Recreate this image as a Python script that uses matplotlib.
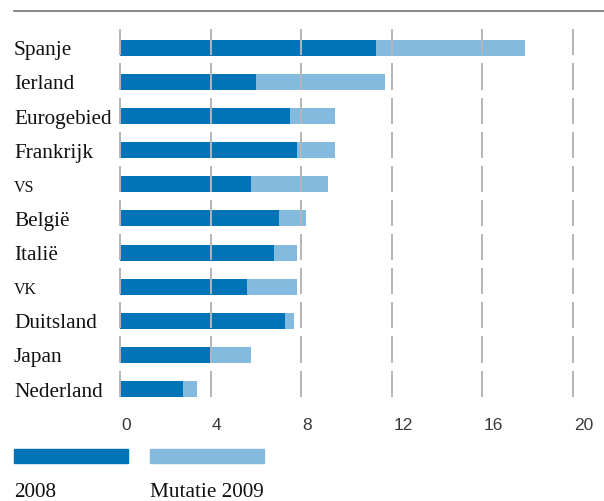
import matplotlib
matplotlib.use("Agg")
import matplotlib.pyplot as plt
from matplotlib.lines import Line2D
from matplotlib.patches import Rectangle
import matplotlib.transforms as mtransforms

countries = ["Spanje", "Ierland", "Eurogebied", "Frankrijk", "VS", "België",
             "Italië", "VK", "Duitsland", "Japan", "Nederland"]
value_2008 = [11.3, 6.0, 7.5, 7.8, 5.8, 7.0, 6.8, 5.6, 7.3, 4.0, 2.8]
change_2009 = [6.6, 5.7, 2.0, 1.7, 3.4, 1.2, 1.0, 2.2, 0.4, 1.8, 0.6]
xticks = [0, 4, 8, 12, 16, 20]
legend_labels = ["2008", "Mutatie 2009"]

dark = "#0074b6"
light = "#84bade"
grid_col = "#b5b5b5"
serif = ["Liberation Serif", "DejaVu Serif"]

W, H = 604, 502
fig = plt.figure(figsize=(W / 100, H / 100), dpi=100)
ax = fig.add_axes([120 / W, 1 - 410.5 / H, 453 / W, 382.2 / H])

rows = list(range(len(countries)))
ax.barh(rows, value_2008, height=0.47, color=dark, zorder=2)
ax.barh(rows, change_2009, left=value_2008, height=0.47, color=light, zorder=2)

# broken vertical gridlines, one segment per row
for r in rows:
    ax.vlines(xticks, r - 0.54, r + 0.225, color=grid_col, lw=1.4, zorder=3,
              clip_on=False)

ax.set_xlim(0, 20)
ax.set_ylim(10.6, -0.6)
for s in ax.spines.values():
    s.set_visible(False)
ax.set_yticks([])
ax.set_xticks(xticks)
ax.set_xticklabels([str(t) for t in xticks], ha="left", color="#3a3a3a",
                   fontsize=12.5, family=["Liberation Sans", "DejaVu Sans"])
ax.tick_params(axis="x", length=0, pad=5.5)
for lbl in ax.get_xticklabels():
    lbl.set_transform(lbl.get_transform() +
                      mtransforms.ScaledTranslation(1.5 / 100, 0, fig.dpi_scale_trans))

# country labels
trans = mtransforms.blended_transform_factory(fig.transFigure, ax.transData)
for r, name in zip(rows, countries):
    size = 11.5 if name in ("VS", "VK") else 15.3
    ax.text(14 / W, r + 0.19, name, transform=trans, ha="left", va="baseline",
            fontsize=size, family=serif, color="#111111")

# top rule
fig.add_artist(Line2D([14 / W, 1.0], [1 - 12.3 / H, 1 - 12.3 / H],
                      color="#808080", lw=1.3))

# legend
fig.add_artist(Rectangle((14 / W, 1 - 464 / H), 114 / W, 14 / H,
                         color=dark, transform=fig.transFigure))
fig.add_artist(Rectangle((150 / W, 1 - 464 / H), 114 / W, 14 / H,
                         color=light, transform=fig.transFigure))
fig.text(14 / W, 1 - 497 / H, legend_labels[0], ha="left", va="baseline",
         fontsize=15.3, family=serif, color="#111111")
fig.text(150 / W, 1 - 497 / H, legend_labels[1], ha="left", va="baseline",
         fontsize=15.3, family=serif, color="#111111")

fig.savefig("out.png", dpi=100)
